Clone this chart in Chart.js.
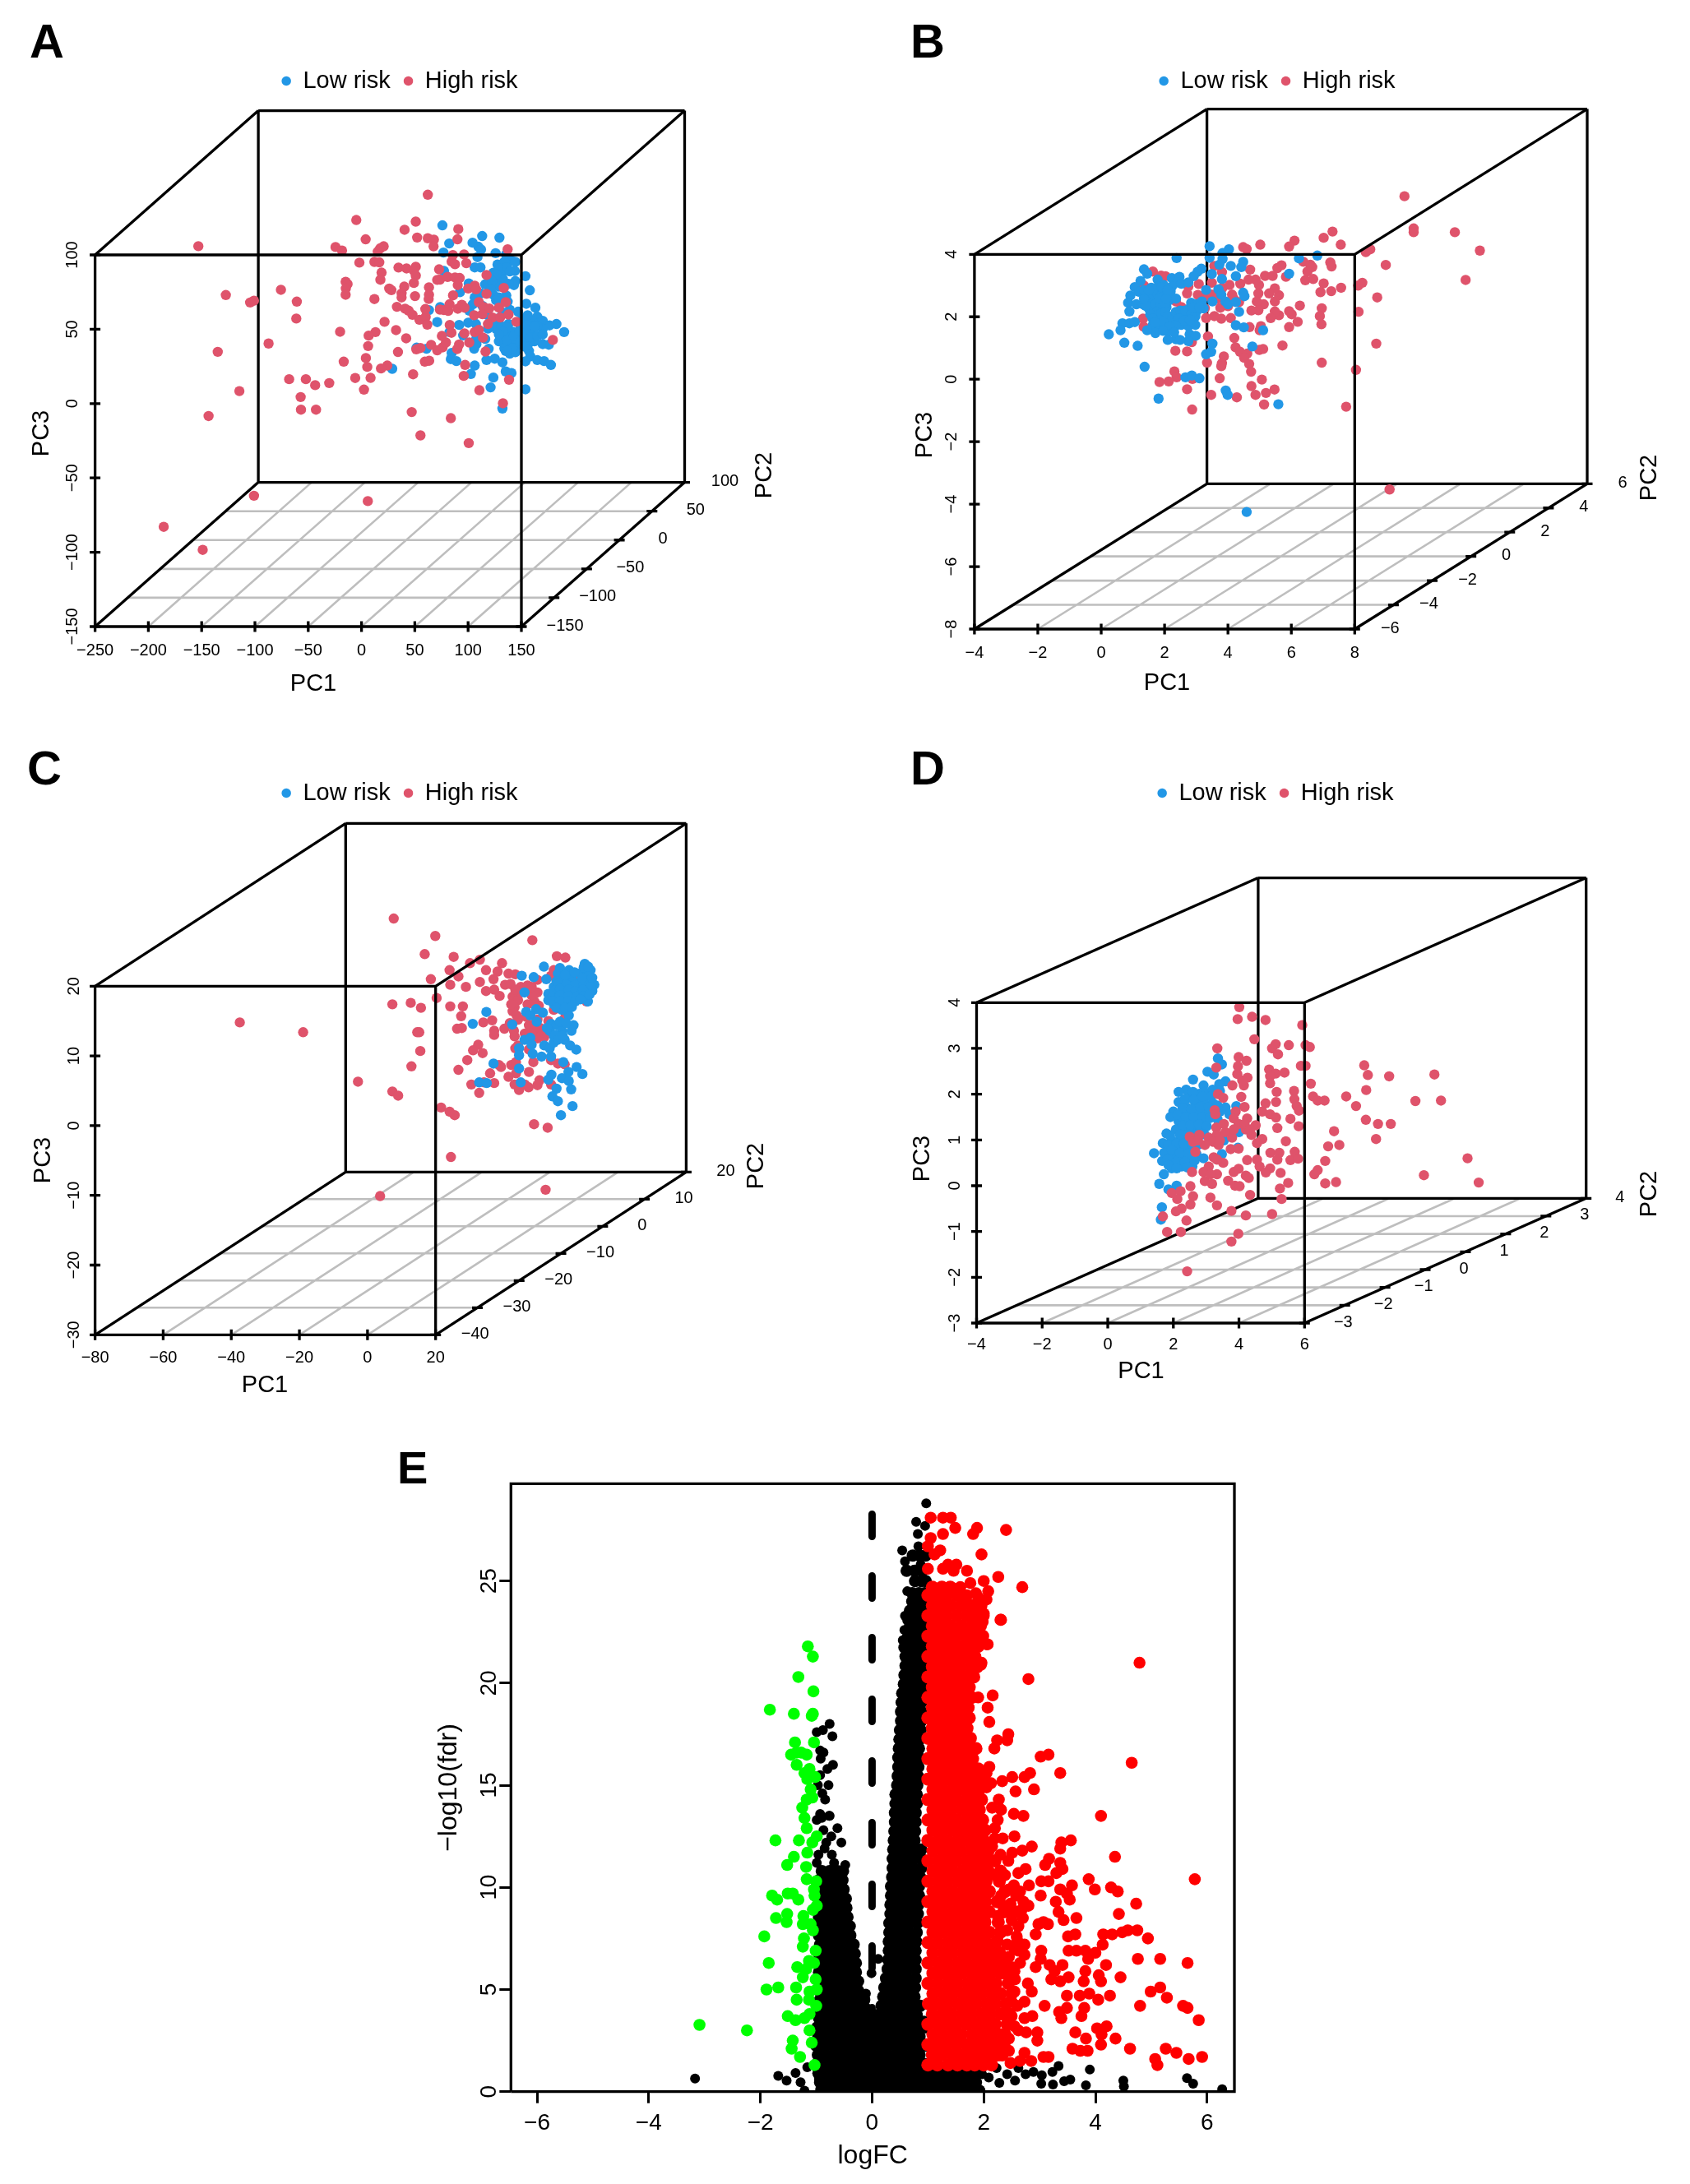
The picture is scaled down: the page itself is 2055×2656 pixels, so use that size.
<!DOCTYPE html>
<html><head><meta charset="utf-8"><title>PCA and volcano plots</title>
<script src="https://cdn.jsdelivr.net/npm/chart.js@4"></script>
<style>
html,body{margin:0;padding:0;background:#fff;width:2055px;height:2656px;overflow:hidden;position:relative}
canvas{position:absolute;display:block}
.letter{position:absolute;font:bold 58px/1 "Liberation Sans",Arial,sans-serif;color:#000}
</style></head><body>
<script>
const lowA=[[75.9,119.9],[82.3,107.7],[104.2,108.2],[113.2,112.7],[129.4,111.6],[76.9,101.6],[109.6,105.5],[112.1,103.6],[108.8,98.5],[125.8,101.2],[135.6,100.3],[140.4,96.3],[127.6,93.5],[134,95.3],[144.3,95.3],[106.2,91.6],[111.6,91.6],[143.8,89.2],[77.4,89.2],[123.7,88],[132.7,88.9],[119.9,85.2],[126.3,85.2],[132.7,83.7],[153.8,85.7],[144.3,82.4],[143,79.7],[126.3,80.6],[116,80.2],[100.6,80.8],[118.6,79.7],[128.9,78.7],[157.9,76.2],[92.3,74.9],[112.1,74.1],[123.7,73.2],[135.8,72.7],[106.2,71.4],[126.3,69.5],[134,69.5],[137.1,68.6],[154.6,67.1],[163.1,64.5],[113.4,65.8],[104.4,66.7],[101.1,62.5],[63.3,62.9],[73.8,64.9],[139.1,63.1],[146.9,61.8],[118.6,59.4],[132.7,61.2],[164.9,58.5],[71,54.8],[91.6,52.9],[100.1,54.4],[107.3,53.5],[125,53.8],[126.3,50.2],[137.9,53.5],[118.6,50.5],[154.6,53.8],[161,55.7],[166.2,53.8],[170,55.7],[176.4,52.6],[182.9,53.5],[190.1,48.1],[170,50.2],[154.6,49.2],[159.7,48.3],[149.4,52],[82.6,48.1],[95.4,45.9],[107.8,43.7],[116,43.5],[128.9,41.9],[136.6,46.5],[141.7,48.3],[146.9,46.5],[152,44.6],[162.3,41.9],[139.1,39.1],[146.9,39.1],[157.1,40.9],[175.7,39.6],[170,40],[107.8,40],[105.7,36.9],[119.3,36.9],[61,36.9],[51.7,37.6],[135.3,35.4],[139.1,33.6],[144.3,34.5],[157.1,35.4],[158.4,31.7],[84.6,34.1],[83.8,29.9],[89,28.6],[117.3,29.3],[125,30.2],[132.2,27.7],[153.8,28.4],[164.9,29.3],[171.3,28.6],[177.7,26],[106.2,25.6],[135.3,21.6],[140.7,20.5],[102.6,19.9],[123.7,17.5],[121.1,10.9],[153.8,9.6],[132.2,-3.3],[28.8,23.4],[134,41.9],[141.7,40.9],[131.4,52],[136.6,51.1],[155.9,59.4],[159.7,52],[146.9,40.9],[149.4,55.7],[153.3,57.5],[164.9,52],[134,37.2],[144.3,43.7],[154.6,42.8],[128.9,57.5]];
const lowACore=[[132.7,48.3],[136.6,42.8],[143,45.5],[148.2,49.2],[153.3,47.4],[158.4,44.6],[164.9,45.5],[170,46.5],[155.9,52.9],[162.3,52],[149.4,41.9],[153.3,38.2],[141.7,37.2],[136.6,35.4],[128.9,46.5],[128.9,90.7],[126.3,87],[136.6,91.6],[139.1,88.9],[122.4,82.4],[137.9,80.6],[121.1,76.9],[128.9,71.4]];
const highA=[[62.2,140.5],[-4.9,123.5],[50.9,122.4],[40.4,116.9],[90.8,117.3],[52.2,111.7],[3.9,110.5],[62.2,111.2],[67.9,110.3],[90,110.5],[-24.4,105.3],[-18.3,102.9],[67.6,105.8],[20.8,105.8],[17.5,104.4],[15.2,102.2],[137.1,103.8],[85.7,99.9],[96.2,100.3],[84.6,95.5],[87.7,93.7],[98.3,94.4],[-2,94.8],[12.1,95.3],[16.7,95],[34.7,91.5],[42.2,90.9],[50.9,92],[49.1,89.4],[72.8,90.3],[18.8,88.1],[50.9,86.1],[17.7,83.3],[49.1,81.1],[71,83.2],[73.6,83.4],[80.8,85.2],[87.7,84.8],[92.1,84.5],[90.3,79.7],[117.3,86.5],[-14.9,81.9],[-13.1,80.4],[-14.7,77.4],[-14.9,73.2],[-75.6,76.5],[-60.7,68.6],[-61.2,57.2],[26,77.4],[28,76.3],[40.1,78.7],[63.3,78.2],[37.6,74.1],[37.6,71.4],[50.2,72.3],[63.3,73.2],[63,70.4],[12.1,70.3],[100.1,77.4],[106.2,79.3],[107.5,76.9],[133.5,77.8],[85.9,72.8],[117.3,73.8],[110.1,68.2],[33.2,65.1],[40.9,63.8],[44.2,62.5],[47.8,59.7],[54.3,56.4],[60.2,58.3],[59.9,63.6],[61.7,53.1],[73.6,63.2],[77.4,62.9],[81.3,62.3],[82.6,66.8],[90.3,63.8],[94.1,66.4],[96.7,64.5],[114.7,64.9],[119.9,64],[128.9,64.5],[135.3,68.2],[105.7,59.4],[113.4,60.1],[122.9,57.9],[130.1,57.9],[137.9,59.9],[118.6,53.5],[145.3,55],[21.6,55],[-20.1,48.3],[13.1,48.1],[6.7,45.7],[32.4,49.4],[41.9,43.9],[6.2,38.7],[34.2,34.7],[4.1,30.6],[-16.7,28.2],[5.4,24.7],[24.2,25.6],[18.3,23.6],[-67.9,16.4],[-52.2,16.4],[-43.5,12.4],[-30.3,13.8],[-5.9,17.2],[8.5,17.3],[2.3,9.4],[-57.1,4.4],[-56.8,-4.1],[-42.7,-4.1],[48.4,19.7],[47.1,-5.7],[55.3,-21.4],[83.8,-9.8],[100.6,-26.6],[110.6,9],[132.7,0.2],[138.4,16],[95.9,18.6],[97.2,26],[59.4,28.2],[63.5,28.8],[51.4,36.5],[55.3,37.4],[65.3,39.5],[71,35.8],[76.1,37.8],[79.2,41.1],[75.4,45.5],[82.8,52.9],[84.4,47.6],[96.5,47.2],[91.6,39.8],[89.8,36.7],[101.1,41.1],[106.2,48.1],[110.1,49.6],[113.9,44.4],[116.3,35],[179.5,42.8],[5.9,-65.6],[-153.1,105.9],[-127.3,73],[-104.5,68],[-100.9,69.2],[-134.9,34.8],[-87.2,40.4],[-114.6,8.4],[-143.5,-8.4],[-100.9,-62],[-185.6,-82.9],[-149,-98.4]];
const lowB=[[3.42,4.26],[2.38,3.88],[3.42,3.89],[3.83,4.04],[4.03,4.16],[6.24,3.87],[6.82,3.96],[3.83,3.85],[3.73,3.67],[4.09,3.63],[4.48,3.76],[4.42,3.59],[5.93,3.38],[1.35,3.52],[1.45,3.38],[3.16,3.54],[3.04,3.44],[2.92,3.3],[3.49,3.37],[4.25,3.3],[3.81,3.21],[1.78,3.19],[2.23,3.24],[2.47,3.28],[1.24,3.15],[1.06,2.95],[1.19,2.8],[0.92,2.68],[0.85,2.45],[1.11,2.4],[0.89,2.17],[2.4,3.1],[2.23,2.97],[2.53,3.06],[2.75,3.1],[3.31,2.86],[3.7,2.88],[3.79,2.71],[3.92,2.49],[4,2.4],[4.48,2.77],[4.52,2.66],[3.51,2.49],[4.25,2.47],[4.35,2.16],[3.18,2.49],[2.84,2.45],[3.01,2.4],[3.23,2.27],[2.79,2.27],[3.01,2.18],[2.97,2.01],[2.62,2.05],[2.45,2.09],[2.27,2.01],[2.19,1.83],[2.36,1.92],[2.53,1.74],[2.75,1.7],[2.97,1.74],[2.02,1.7],[2.1,1.52],[1.84,1.7],[1.63,1.74],[1.71,1.48],[1.45,1.57],[0.67,1.79],[0.61,1.57],[0.89,1.79],[1.06,1.83],[0.24,1.44],[0.73,1.17],[1.15,1.07],[1.37,0.4],[1.81,-0.62],[2.66,0.06],[2.86,0.12],[3.1,0.03],[3.93,-0.36],[3.99,-0.5],[5.59,-0.8],[4.77,1.05],[4.25,1.73],[4.5,1.66],[5.11,1.57],[3.51,1.14],[3.31,0.8],[3.47,0.88],[2.79,1.44],[2.98,1.39],[2.75,1.22],[2.36,1.28],[2.49,1.26],[2.1,1.26],[4.59,-4.25],[1.58,2.67],[1.76,2.75],[1.93,2.84],[2.1,2.67],[1.41,2.49],[1.58,2.4],[1.8,2.49],[1.97,2.49],[2.15,2.53],[1.63,2.18],[1.84,2.23],[2.06,2.31],[1.5,2.27],[1.71,2.05],[1.93,2.01],[1.8,1.88],[1.58,2.93],[1.8,2.97],[1.97,3.02],[2.19,2.8],[1.45,2.71],[1.32,2.4],[2.36,2.58],[1.89,2.67],[1.71,2.58],[1.67,2.75]];
const lowBCore=[[1.5,2.58],[1.5,2.42],[1.62,2.3],[1.4,2.35],[1.7,2.4],[1.88,2.4],[2.02,2.42],[1.75,2.15],[1.9,2.12],[2.02,2.15],[1.55,2.08],[1.62,1.95],[2.1,2.02],[2.12,1.85],[1.95,1.85],[1.7,1.82],[2.35,2.15],[2.5,2.2],[2.65,2.2],[2.85,2.12],[2.45,1.95],[2.62,1.88],[2.8,1.9],[2.35,1.72],[2.15,1.68],[1.95,1.55],[2.3,1.5],[1.85,2.58],[2.05,2.58],[1.35,2.58],[2.9,2.3],[3.1,2.3],[1.65,2.88],[1.9,2.95],[2.1,2.85],[1.35,2.85],[1.5,2.85]];
const highB=[[7.3,4.73],[7.02,4.53],[7.56,4.31],[6.1,4.44],[5.93,4.25],[5.02,4.31],[4.48,4.23],[4.59,4.17],[8.35,4.07],[8.49,4.16],[8.98,3.66],[7.23,3.74],[7.27,3.61],[6.38,3.76],[6.6,3.67],[6.66,3.59],[5.69,3.65],[5.56,3.56],[6.51,3.45],[5.17,3.31],[5.41,3.31],[5.83,3.28],[4.7,3.51],[6.44,3.17],[6.69,3.21],[7.02,3.07],[7.57,2.93],[7.26,2.82],[6.92,2.79],[8.11,3],[8.24,3.09],[8.71,2.62],[8.12,2.16],[8.68,1.14],[8.04,0.3],[7.73,-0.88],[6.96,0.53],[5.72,1.08],[6.96,2.27],[6.9,2.02],[6.95,1.76],[6.27,2.36],[6.2,1.84],[5.93,1.67],[6.01,2.08],[5.93,2.18],[5.61,2.05],[5.48,2.17],[5.35,1.96],[5.48,2.49],[5.61,2.69],[5.48,2.91],[5.3,2.75],[4.96,2.75],[4.98,3.02],[4.87,3.19],[4.65,3.19],[5.13,2.4],[4.91,2.49],[4.96,2.21],[4.74,2.2],[4.09,1.96],[3.79,1.94],[3.57,2.02],[3.31,1.96],[3.76,2.29],[4,2.34],[4.35,2.47],[4.13,2.71],[3.83,2.93],[4.05,3.02],[4.39,3.06],[3.49,3.09],[3.08,3.05],[3.81,3.43],[3.57,3.63],[4.68,1.67],[5.04,1.7],[5,1.57],[4.2,1.32],[4.24,1.02],[4.38,0.88],[4.61,0.82],[4.51,0.69],[4.67,0.49],[4.73,0.24],[5.07,-0.01],[4.74,-0.22],[5.47,-0.33],[5.2,-0.44],[4.87,-0.5],[5.14,-0.81],[4.28,-0.58],[3.47,-0.5],[3.74,0.03],[3.34,0.53],[3.87,0.73],[3.81,0.51],[3.79,0.42],[3.37,1.37],[2.86,1.19],[2.71,0.89],[2.34,0.91],[2.31,0.25],[2.38,0.06],[2.13,-0.07],[1.84,-0.09],[2.88,0.01],[2.71,-0.32],[2.87,-0.97],[4.99,0.94],[5.11,0.97],[9.1,-3.53],[1.32,1.94],[1.34,1.68],[1.63,3.45],[1.89,3.32],[2.03,3.3],[1.35,3],[2.75,2.97],[2.71,2.75],[3.05,2.7],[3.31,2.66],[2.36,2.49],[2.53,2.31],[2.71,2.09],[3.27,2.27],[3.49,2.71],[3.66,2.58],[4.18,2.58],[9.57,5.86],[9.86,4.83],[9.86,4.71],[11.16,4.71],[11.95,4.12],[11.5,3.18]];
const lowC=[[63.8,23.2],[65.5,22.3],[59.2,22.3],[56.5,22.6],[51.8,22.8],[55.9,21.8],[62.7,21.9],[64.3,21.5],[45.3,21.5],[48.8,21.3],[52.5,21],[55.5,20.7],[57.9,21.1],[60.3,20.7],[62.7,20.7],[65.1,20.7],[66.6,20.2],[54.7,19.9],[57.1,19.9],[59.5,19.9],[61.9,19.7],[64.3,19.9],[66,19.3],[46.1,19.1],[53.1,18.9],[55.5,19.1],[57.9,19.1],[60.3,18.9],[62.7,18.9],[64.7,17.8],[53.1,18],[55.5,18.2],[57.9,18.3],[60.3,18.2],[58.7,17.4],[56.3,17.4],[54.7,17.4],[34.9,16.3],[46.6,16.3],[49.5,16.7],[51.5,16.2],[47.8,15.8],[59.1,15.8],[57.1,16.6],[30.9,14.6],[42.5,14.5],[49.7,14.9],[53.9,14.6],[55.5,14.4],[60.5,14.4],[59.9,13.6],[53.5,13.6],[57.1,13.6],[54.7,12.9],[57.9,12.3],[59.5,11.5],[61.3,10.9],[46.1,12.3],[47.8,12.6],[48.2,11.6],[51.9,11.5],[53.5,11.1],[54.7,11.9],[44.5,11.1],[44.5,10.1],[48.5,10.3],[51.1,9.9],[53.9,9.9],[57.5,9.1],[37,8.9],[44.5,8.2],[61.4,8.4],[59,7.7],[63.1,7.4],[54,7.3],[53.1,6.6],[57.1,6.8],[59.1,6.4],[45,6.2],[32.8,6.2],[35,6.1],[55.5,5.3],[59.8,5.2],[54.3,4.2],[55.9,3.5],[60.2,2.8],[56.8,1.5]];
const lowCCore=[[56,20.3],[58.5,20.4],[61,20.3],[63.5,20.3],[65.5,19.9],[55,19.4],[56.5,19.6],[59,19.5],[61,19.3],[63.3,19.5],[54.3,18.5],[56.5,18.7],[59,18.6],[61.5,18.5],[63.5,18.6],[65.2,18.8],[54.5,17.9],[56.5,17.9],[59,17.9],[61,17.8],[62.5,18.1],[55.5,16.9],[58,16.9],[60,17],[63,21.2],[60,21.4],[58,21.6],[66,21.2],[63.5,22.7],[60.8,22],[64.8,22.8],[55,13],[56.5,14.9],[58.3,14.7],[52.7,14],[55.8,12.3],[57.3,12.9]];
const highC=[[7.7,29.7],[19.9,27.2],[48.4,26.6],[16.8,24.6],[25.3,24.2],[30.1,23.3],[33,23.8],[39.5,23.3],[24.1,22.3],[34.8,22.3],[38.2,22.1],[55.6,24.3],[58.1,24.1],[41.4,21.8],[43.4,21.7],[26.7,21.4],[18.6,21],[37,21],[33,20.6],[24.3,20.2],[28.9,19.9],[40.4,20.2],[42,20.3],[34.8,19.3],[37.2,19.5],[38.8,18.6],[45,19.9],[47,20.1],[49.9,20.9],[42.6,18.5],[44.2,18],[20.3,18.3],[7.3,17.4],[12.7,17.6],[15.7,16.9],[24.3,17.1],[28,17.1],[27.5,15.7],[43.2,17],[42.6,16.4],[43.8,15.8],[47,17.4],[49,17.8],[49.9,19.1],[48.2,18.7],[50.3,17.2],[54.7,16.6],[36.6,15.1],[34,14.8],[41.8,14.7],[44.2,15.2],[26.3,13.9],[27.7,14],[14.6,13.4],[15.2,13.4],[40.2,13.9],[37.2,13.6],[37.2,13],[43,13.6],[43.2,12.8],[46.2,13.2],[49,13.6],[50.7,14],[47.4,14.4],[53.1,15],[57.9,15.4],[49.9,12.5],[51.9,12.7],[15.5,10.7],[32.5,11.6],[31,10.8],[33.8,10.4],[43.4,11.1],[44.2,11.5],[47.4,10.9],[29.3,9.4],[12.9,8.5],[26.7,8],[38.6,8.7],[39.2,8.4],[42.2,8.7],[43.6,9.1],[48.7,9.1],[53.9,9.4],[55.9,8.9],[57.9,8.8],[36,7.5],[43.6,7.5],[41.4,7],[47.4,7.7],[-2.8,6.3],[30.5,5.9],[34.2,6.2],[37.2,6.1],[43.2,5.9],[44.5,5.1],[46.2,5.9],[47.3,5.5],[49.9,5.8],[50.5,6.5],[53.9,5.9],[7.3,4.9],[9,4.3],[32.8,4.7],[21.6,2.6],[24.1,2],[25.6,1.5],[48.9,0.2],[52.9,-0.3],[24.5,-4.5],[52.3,-9.2],[3.7,-10.1],[64.3,17.8],[49.9,15.2],[49,14.6],[51.5,13.4],[48.2,13.2],[54.7,22.3],[53.9,21.5],[61.9,21.1],[46.6,15.6],[42.2,17.4],[45,19.1],[48.2,19.9],[43.4,19.5],[-37.5,14.8],[-18.9,13.4]];
const lowD=[[3.36,2.78],[3.48,2.65],[3.04,2.49],[3.23,2.43],[2.6,2.32],[3.59,2.28],[3.4,2.22],[2.92,2.19],[2.39,2.1],[2.16,2.05],[3.42,2.07],[2.79,2.01],[3.04,1.98],[2.5,1.92],[2.75,1.86],[2.16,1.83],[2.41,1.71],[2.67,1.74],[2.96,1.8],[3.21,1.8],[3.59,1.71],[3.92,1.74],[2,1.62],[1.91,1.5],[2.25,1.56],[2.5,1.56],[2.75,1.59],[3,1.59],[3.42,1.62],[3.71,1.56],[2.16,1.41],[2.41,1.41],[2.67,1.41],[2.92,1.41],[1.79,1.14],[2.08,1.23],[2.33,1.23],[2.58,1.23],[2.83,1.26],[4,1.17],[1.68,0.93],[1.95,0.99],[2.21,1.02],[2.41,1.02],[3.54,0.99],[1.83,0.78],[2.08,0.81],[2.33,0.81],[2.58,0.78],[1.41,0.71],[1.66,0.54],[1.95,0.63],[2.21,0.63],[2.5,0.6],[3.48,0.69],[2.92,0.6],[3.97,0.83],[1.95,0.38],[2.25,0.42],[2.58,0.42],[1.71,0.25],[1.57,0.04],[2.1,0],[1.85,-0.08],[1.65,-0.47],[1.62,-0.74]];
const lowDCore=[[2.6,2.05],[2.95,2.05],[3.2,2.1],[2.35,1.9],[2.62,1.88],[2.88,1.95],[3.15,1.95],[2.28,1.7],[2.55,1.68],[2.82,1.72],[3.08,1.72],[3.35,1.75],[2.12,1.55],[2.38,1.5],[2.62,1.5],[2.88,1.5],[3.12,1.48],[3.35,1.45],[2.28,1.32],[2.52,1.32],[2.78,1.34],[3.02,1.3],[2.2,1.12],[2.45,1.12],[2.7,1.12],[2.95,1.12],[1.9,1.1],[1.85,0.9],[2.1,0.92],[2.32,0.92],[2.55,0.92],[2.78,0.9],[1.72,0.72],[1.95,0.78],[2.2,0.72],[2.45,0.7],[2.7,0.7],[1.82,0.58],[2.08,0.52],[2.35,0.52],[2.65,0.55],[1.85,0.45],[2.1,0.38],[2.42,0.4]];
const highD=[[4.01,3.9],[3.96,3.64],[4.4,3.69],[4.81,3.62],[5.93,3.51],[4.47,3.2],[3.34,3],[5.01,3],[5.12,3.09],[5.52,3.07],[5.19,2.87],[6.03,3.07],[6.16,3.03],[3.99,2.81],[4.23,2.73],[3.31,2.58],[5.89,2.62],[6.03,2.62],[3.97,2.61],[4.92,2.54],[5.39,2.47],[5.12,2.45],[3.95,2.44],[4.26,2.36],[4.95,2.39],[7.82,2.63],[7.93,2.42],[8.58,2.39],[9.96,2.43],[3.8,2.19],[4.15,2.19],[4.1,2.3],[4.95,2.24],[6.19,2.23],[5.15,2.05],[5.68,2.07],[7.88,2.09],[3.36,2],[3.52,1.92],[4.07,1.94],[5.69,1.89],[6.26,1.95],[6.4,1.86],[6.61,1.86],[7.27,1.95],[7.57,1.74],[9.38,1.85],[10.16,1.86],[5.13,1.83],[4.81,1.8],[4.17,1.72],[5.76,1.74],[5.83,1.64],[3.26,1.65],[3.28,1.56],[3.9,1.62],[4.71,1.62],[4.95,1.56],[5.13,1.49],[3.84,1.47],[4.25,1.47],[5.57,1.46],[7.87,1.44],[8.24,1.35],[8.63,1.35],[4.51,1.32],[3.54,1.35],[3.31,1.27],[5.17,1.26],[5.82,1.3],[3.99,1.35],[4.21,1.23],[6.9,1.19],[2.5,1.07],[2.79,1.11],[3.08,1.05],[3.33,1.11],[3.59,1.17],[3.79,1.05],[4.38,1.11],[4.71,1.02],[8.18,1.02],[2.6,0.96],[3.21,0.96],[2.96,0.89],[3.38,0.89],[4.55,0.93],[5.43,0.97],[6.72,0.86],[7.06,0.89],[2.67,0.74],[3.75,0.8],[3.99,0.81],[3.23,0.62],[4.96,0.72],[5.23,0.72],[5.7,0.74],[4.25,0.56],[4.55,0.57],[5.17,0.57],[5.57,0.56],[5.8,0.59],[6.63,0.54],[3.52,0.5],[10.97,0.6],[3.08,0.42],[4.63,0.42],[4.95,0.38],[6.4,0.34],[2.57,0.3],[2.92,0.3],[3.33,0.25],[3.84,0.3],[3.99,0.37],[4.82,0.29],[5.27,0.28],[6.3,0.25],[9.64,0.23],[4.21,0.22],[4.3,0.17],[2.96,0.1],[3.18,0.04],[3.67,0.11],[3.88,0],[4.02,-0.01],[5.5,0.06],[6.63,0.05],[6.96,0.08],[2.52,-0.01],[1.95,-0.16],[2.22,-0.12],[5.25,-0.06],[2.6,-0.23],[3.13,-0.26],[4.34,-0.2],[5.3,-0.29],[2.12,-0.29],[2.52,-0.41],[3.33,-0.43],[2.25,-0.5],[2.08,-0.56],[3.77,-0.55],[4.21,-0.65],[5.01,-0.62],[1.68,-0.67],[2.4,-0.76],[1.81,-1.01],[2.23,-1.01],[3.98,-1.05],[3.77,-1.22],[2.42,-1.87],[2.75,0.99],[3.42,0.99],[3.84,1.23],[4.17,1.35],[4.34,1.23],[3.33,0.57],[3.13,0.25],[11.31,0.07]];

const greenPoints=[[-1.15,21.8],[-1.06,21.3],[-1.32,20.3],[-1.05,19.6],[-1.83,18.7],[-1.4,18.5],[-1.06,18.5],[-1.08,18.4],[-1.38,17.1],[-1.04,17.1],[-1.45,16.5],[-1.35,16.6],[-1.27,16.6],[-1.17,16.5],[-1.35,16],[-1.12,15.8],[-1.21,15.6],[-1.16,15.3],[-1.02,15.4],[-1.1,14.8],[-1.07,14.4],[-1.17,14.3],[-1.25,13.9],[-1.21,13.4],[-1.17,12.9],[-0.99,12.5],[-1.31,12.3],[-1.07,12.2],[-1.73,12.3],[-1.16,11.7],[-1.4,11.5],[-1.52,11.1],[-1.18,11],[-1.17,10.4],[-1,10.3],[-1.04,9.9],[-1.79,9.6],[-1.7,9.4],[-1.51,9.7],[-1.42,9.7],[-1.32,9.4],[-1.03,9.6],[-0.99,9.1],[-1.06,8.9],[-1.52,8.7],[-1.72,8.5],[-1.53,8.3],[-1.23,8.6],[-1.24,8.2],[-1.1,8.2],[-1.06,7.9],[-1.93,7.6],[-1.22,7.5],[-1.24,7.1],[-1.01,6.9],[-1.85,6.3],[-1.13,6.4],[-1.04,6.3],[-1.34,6.1],[-1.18,6],[-1.24,5.6],[-1.01,5.5],[-1.68,5.1],[-1.89,5],[-1.36,5.1],[-1.35,4.5],[-0.99,5],[-1.12,4.9],[-1.13,4.5],[-1,4.2],[-1.51,3.7],[-1.37,3.5],[-1.21,3.6],[-1.12,3.8],[-1.12,3],[-2.24,3],[-1.42,2.5],[-1.44,2.1],[-1.08,2.4],[-1.29,1.7],[-1.03,1.3],[-3.09,3.27]];
const redScatter=[[2.3,23.1],[2.07,21.9],[1.96,21],[4.79,21],[2.8,20.2],[2.16,19.4],[1.9,19.3],[2.07,18.8],[2.1,18.1],[2.44,17.5],[2.42,17.2],[2.24,17.2],[2.19,16.8],[2.1,15.9],[3.02,16.4],[3.16,16.5],[3.37,15.6],[4.65,16.1],[2.83,15.6],[2.73,15.4],[2.51,15.4],[2.33,15.2],[2.13,15.1],[2.57,14.7],[2.9,14.8],[2.27,14.3],[4.1,13.5],[2.54,13.6],[2.71,13.5],[2.31,13.8],[2.25,13.3],[2.2,12.9],[2.55,12.5],[2.34,12.4],[2.2,12.4],[3.56,12.3],[3.39,12.2],[3.37,11.9],[2.86,12],[2.69,11.8],[2.51,11.7],[2.44,11.3],[3.17,11.4],[3.1,11.1],[4.35,11.5],[3.37,11.2],[3.41,10.9],[3.3,10.7],[2.75,10.9],[2.62,10.7],[2.38,10.6],[3.16,10.3],[3.03,10.3],[3.58,10.1],[3.37,9.9],[3.88,10.4],[3.99,9.9],[4.28,10],[4.4,9.8],[5.78,10.4],[2.81,10.1],[3.02,9.6],[3.49,9.7],[3.54,9.4],[3.29,9.3],[4.73,9.2],[3.34,8.8],[4.42,8.7],[3.66,8.5],[3.43,8.4],[3.07,8.3],[2.98,8.2],[3.15,8.2],[2.93,7.7],[4.14,7.7],[4.3,7.7],[4.48,7.8],[4.58,7.9],[4.75,7.9],[4.94,7.5],[3.64,7.7],[3.51,7.6],[4.13,7.2],[2.73,7.2],[3.03,6.9],[3.52,6.9],[3.66,6.9],[3.82,6.9],[4,6.8],[3.87,6.5],[2.73,6.7],[3.02,6.5],[4.76,6.5],[5.16,6.5],[5.65,6.3],[4.19,6.2],[3.18,6.2],[3.41,6.2],[2.93,6.1],[3.27,5.9],[3.82,5.9],[4.06,5.7],[3.52,5.6],[4.45,5.6],[4.1,5.4],[3.79,5.4],[3.21,5.5],[3.37,5.4],[2.56,5.5],[2.79,5.3],[5.16,5.1],[4.99,4.9],[5.28,4.6],[4.26,4.7],[3.89,4.8],[3.72,4.7],[4.05,4.5],[3.49,4.7],[2.86,4.9],[4.8,4.2],[5.57,4.2],[5.65,4.1],[3.09,4.2],[2.73,4.4],[3.8,4.1],[3.49,4.1],[3.35,3.9],[3.75,3.7],[3.39,3.6],[2.87,3.7],[2.73,3.6],[5.85,3.5],[3.64,2.9],[4.03,3.1],[4.2,3.2],[4.11,2.8],[3.83,2.6],[4.36,2.6],[4.1,2.3],[2.96,2.9],[2.96,2.5],[2.76,2.9],[2.45,2.6],[4.62,2.1],[3.59,2.1],[3.73,2],[3.86,2],[5.26,2.1],[5.45,1.9],[5.07,1.6],[5.11,1.3],[5.67,1.6],[5.91,1.7],[2.32,2],[2.73,1.9],[3.07,1.7],[3.16,1.7],[2.48,1.4],[2.85,1.5],[2.65,1.5],[2.14,1.8],[2.48,9.2],[2.68,8.9],[2.31,9.6],[2.42,7.9],[2.59,7.6],[2.42,7.2],[2.71,9.3],[2.54,10.1],[1.05,28.1],[1.27,28.1],[1.41,28.1],[1.49,27.6],[1.88,27.6],[1.81,27.3],[2.4,27.5],[1.27,27.3],[1.05,27.1],[1,26.7],[1.22,26.5],[1.96,26.3],[1.12,26.3],[1,25.6],[1.36,25.8],[1.51,25.8],[1.46,25.5],[1.27,25.6],[1.7,25.5],[2.26,25.2],[1.76,24.9],[2,25],[1.49,24.6],[2.69,24.7],[2.08,24.5],[1.86,24.4],[2.05,24.1],[1.68,24.2],[2.31,23.1],[1.98,23],[2,23.4],[2.05,21.9],[1.95,20.9],[2.25,8.6],[2.5,8.4],[2.62,8.1],[2.35,9.1],[2.58,9.6],[2.7,8.5],[2.8,9.1],[2.25,7.4],[2.55,7],[2.65,6.3],[2.5,6.1],[2.55,5.9],[2.62,6.9],[2.2,10.6],[2.45,9.9],[2.65,9.8],[2.3,11.6],[2.15,12],[2.15,13.9],[2.05,14.9],[2.05,15.6],[2.6,7.4],[2.45,6.6],[2.55,4.9],[2.6,4.2],[2.55,3.2],[2.5,3.7],[2.62,3],[2.45,2],[2.5,4.4],[1.7,24.3],[1.9,24.2],[1.58,24.7],[2,23.3]];
const redMassRows=[[1.31,1,1.17,1.36,1.53,1.7,1.84,2,2.14],[1.8,1.08,1.25,1.43,1.6,1.78,1.95,2.1,2.25,2.33],[2.3,1,1.17,1.34,1.52,1.7,1.86,2.03,2.2,2.36],[2.8,1.09,1.26,1.44,1.6,1.79,1.95,2.12,2.28,2.38],[3.3,1,1.18,1.35,1.52,1.7,1.88,2.04,2.2,2.42],[3.8,1.08,1.26,1.43,1.61,1.78,1.96,2.12,2.3,2.46],[4.3,1.01,1.18,1.35,1.53,1.7,1.87,2.05,2.21,2.4],[4.8,1.09,1.27,1.44,1.62,1.79,1.96,2.14,2.3,2.5],[5.3,1,1.18,1.36,1.53,1.71,1.88,2.05,2.22,2.44],[5.8,1.09,1.26,1.44,1.61,1.79,1.96,2.12,2.3,2.4],[6.3,1,1.18,1.35,1.53,1.7,1.88,2.04,2.2,2.38],[6.8,1.09,1.27,1.44,1.62,1.79,1.96,2.12,2.28],[7.3,1,1.18,1.36,1.53,1.7,1.87,2.04,2.22],[7.8,1.09,1.26,1.44,1.61,1.78,1.94,2.1,2.3],[8.3,1,1.18,1.35,1.52,1.7,1.86,2.02,2.26],[8.8,1.09,1.26,1.44,1.61,1.78,1.94,2.1,2.36,2.55],[9.3,1,1.17,1.35,1.53,1.7,1.86,2.03,2.24],[9.8,1.09,1.26,1.44,1.62,1.78,1.95,2.1,2.38,2.6],[10.3,1,1.18,1.35,1.53,1.7,1.87,2.04,2.28],[10.8,1.09,1.26,1.44,1.62,1.78,1.95,2.08,2.3],[11.3,1,1.18,1.35,1.52,1.7,1.87,2.04,2.2],[11.8,1.09,1.27,1.44,1.6,1.78,1.95,2.08],[12.3,1,1.18,1.35,1.53,1.7,1.87,2],[12.8,1.09,1.26,1.44,1.61,1.78,1.93,2.02],[13.3,1,1.17,1.35,1.52,1.7,1.85,1.98],[13.8,1.09,1.26,1.43,1.61,1.78,1.92],[14.3,1,1.18,1.35,1.52,1.7,1.85,1.96],[14.8,1.09,1.26,1.44,1.6,1.76,1.92],[15.3,1,1.18,1.35,1.52,1.68,1.85,1.98],[15.8,1.09,1.26,1.43,1.6,1.76,1.9],[16.3,1,1.17,1.34,1.5,1.66,1.8],[16.8,1.09,1.25,1.42,1.58,1.72,1.86],[17.3,1,1.17,1.33,1.5,1.64,1.76],[17.8,1.08,1.25,1.42,1.56,1.7],[18.3,1,1.16,1.32,1.49,1.62,1.74],[18.8,1.08,1.24,1.4,1.56,1.72],[19.3,1,1.16,1.32,1.48,1.64,1.78],[19.8,1.08,1.25,1.42,1.58,1.74],[20.3,1,1.17,1.33,1.5,1.66,1.82],[20.8,1.08,1.25,1.42,1.58,1.76,1.88],[21.3,1,1.17,1.34,1.5,1.67,1.84],[21.8,1.08,1.25,1.42,1.59,1.76,1.9],[22.3,1,1.17,1.33,1.5,1.68,1.85,1.98],[22.8,1.08,1.25,1.42,1.6,1.78,1.94],[23.3,1,1.17,1.34,1.52,1.7,1.85],[23.8,1.08,1.25,1.42,1.6,1.78,1.95],[24.3,1,1.17,1.34,1.52],[24.7,1.08,1.25,1.4]];
const blackScatter=[[0.97,28.8],[0.79,27.9],[0.95,27.7],[0.82,27.3],[0.54,26.5],[0.83,26.7],[0.59,25.96],[0.87,25.8],[0.63,24.5],[0.59,23.3],[0.58,22.6],[0.55,22.1],[-0.01,5.8],[0.11,6.5],[-0.11,4.8],[2.23,1.16],[1.97,0.85],[2.09,0.69],[2.28,0.43],[2.42,0.85],[2.56,0.54],[2.62,1.16],[2.75,0.85],[2.89,0.96],[3.04,0.8],[3.03,0.39],[3.24,0.35],[3.23,0.96],[3.34,1.26],[3.44,0.51],[3.55,0.59],[3.83,0.31],[3.9,1.08],[4.5,0.54],[4.51,0.26],[5.64,0.66],[5.75,0.39],[6.27,0.12],[-1.68,0.77],[-1.53,0.54],[-1.37,0.91],[-1.28,0.46],[-1.21,0.05],[-1.16,1.2],[-0.93,0.11],[-0.95,0.62],[-3.17,0.64],[-0.76,18],[-0.88,17.7],[-0.99,17.6],[-0.71,17.4],[-0.93,16.7],[-0.87,16.6],[-0.92,16.3],[-0.7,16],[-0.8,15.8],[-0.93,15.5],[-0.97,15],[-0.78,15],[-0.89,14.6],[-0.84,14.3],[-0.93,13.6],[-0.77,13.5],[-0.9,13.4],[-0.76,13.5],[-0.99,13.3],[-0.87,12.8],[-0.62,12.9],[-0.55,12.2],[-0.73,12.5],[-0.82,12.2],[-0.96,11.6],[-0.72,11.6],[-0.85,11.9],[-0.48,11.1],[-0.68,11.2],[-0.99,11.2]];
const blackMassRows=[[26.25,0.73,0.85,0.96],[25.5,0.62,0.76,0.9],[25,0.77,0.88,0.96],[24.4,0.72,0.84,0.94],[24,0.72,0.82,0.94],[23.55,0.68,0.8,0.92],[23.1,0.65,0.75,0.85,0.95],[22.65,0.66,0.76,0.86,0.94],[22.2,0.63,0.74,0.84,0.94],[21.75,0.58,0.7,0.8,0.92],[21.3,0.6,0.7,0.8,0.92],[20.85,0.6,0.7,0.8,0.92],[20.4,0.58,0.68,0.8,0.92],[19.95,0.57,0.69,0.8,0.92],[19.5,0.54,0.66,0.78,0.9],[19.05,0.53,0.65,0.77,0.88],[18.6,0.52,0.64,0.76,0.88],[18.15,0.52,0.64,0.76,0.88],[17.7,0.5,0.62,0.74,0.87],[17.25,0.49,0.61,0.73,0.85],[16.8,0.48,0.6,0.72,0.84],[16.35,0.47,0.6,0.72,0.84],[15.9,0.47,0.59,0.71,0.83],[15.45,0.46,0.58,0.7,0.82],[15,0.45,0.57,0.69,0.81],[14.55,0.42,0.54,0.67,0.8],[14.1,0.42,0.54,0.66,0.8],[13.65,0.41,0.53,0.65,0.78],[13.2,0.41,0.53,0.65,0.78],[12.75,0.4,0.52,0.64,0.77],[12.3,0.39,0.51,0.63,0.76],[11.85,0.38,0.5,0.62,0.74,0.88],[11.4,0.37,0.49,0.61,0.74,0.88],[10.95,0.37,0.49,0.61,0.74,0.88],[10.5,0.36,0.48,0.6,0.72,0.86],[10.05,0.34,0.47,0.59,0.7,0.84],[9.6,0.34,0.46,0.58,0.7,0.84],[9.15,0.33,0.45,0.57,0.69,0.83],[8.7,0.33,0.45,0.57,0.68,0.82],[8.25,0.31,0.43,0.55,0.67,0.81],[7.8,0.31,0.43,0.54,0.66,0.8],[7.35,0.3,0.42,0.53,0.65,0.79],[6.9,0.3,0.41,0.52,0.64,0.78],[6.45,0.29,0.41,0.53,0.65,0.78],[6,0.28,0.4,0.52,0.64,0.78],[5.55,0.25,0.38,0.51,0.64,0.78],[5.1,0.22,0.35,0.49,0.63,0.77],[4.65,0.2,0.33,0.47,0.61,0.76],[4.2,0.17,0.3,0.44,0.58,0.72,0.86],[3.75,0.1,0.24,0.38,0.52,0.66,0.8],[3.42,0.06,0.2,0.35,0.49,0.64,0.79,0.93],[10.8,-0.9,-0.76,-0.62,-0.52],[10.35,-0.95,-0.81,-0.67,-0.53],[9.9,-0.93,-0.79,-0.65,-0.51],[9.45,-0.95,-0.81,-0.67,-0.53,-0.47],[9,-0.93,-0.79,-0.65,-0.51,-0.46],[8.55,-0.95,-0.81,-0.67,-0.53,-0.44],[8.1,-0.93,-0.79,-0.65,-0.51,-0.4],[7.65,-0.95,-0.81,-0.67,-0.53,-0.39],[7.2,-0.93,-0.79,-0.65,-0.51,-0.37,-0.33],[6.75,-0.95,-0.81,-0.67,-0.53,-0.39,-0.31],[6.3,-0.93,-0.79,-0.65,-0.51,-0.37,-0.29],[5.85,-0.95,-0.81,-0.67,-0.53,-0.39,-0.29],[5.4,-0.93,-0.79,-0.65,-0.51,-0.37,-0.25],[4.95,-0.95,-0.81,-0.67,-0.53,-0.39,-0.25],[4.5,-0.93,-0.79,-0.65,-0.51,-0.37,-0.23,-0.14],[4.05,-0.95,-0.81,-0.67,-0.53,-0.39,-0.25,-0.11],[3.6,-0.95,-0.8,-0.66,-0.52,-0.38,-0.24,-0.1,0.02],[3.15,-0.98,-0.84,-0.7,-0.56,-0.42,-0.28,-0.14,0,0.14,0.28,0.42,0.56,0.7,0.84,0.96],[2.7,-0.96,-0.83,-0.69,-0.55,-0.41,-0.27,-0.13,0.01,0.15,0.29,0.43,0.57,0.71,0.85],[2.25,-1,-0.86,-0.71,-0.57,-0.43,-0.29,-0.15,-0.01,0.13,0.27,0.41,0.55,0.69,0.83,0.95],[1.8,-0.97,-0.83,-0.69,-0.55,-0.41,-0.27,-0.13,0.01,0.15,0.29,0.43,0.57,0.71,0.85],[1.35,-0.99,-0.85,-0.71,-0.57,-0.43,-0.29,-0.15,-0.01,0.13,0.27,0.41,0.55,0.69,0.83,0.95],[0.9,-0.96,-0.82,-0.68,-0.54,-0.4,-0.26,-0.12,0.02,0.16,0.3,0.44,0.58,0.72,0.86,1,1.14,1.28,1.42,1.56,1.7,1.84],[0.45,-0.93,-0.8,-0.66,-0.52,-0.38,-0.24,-0.1,0.04,0.18,0.32,0.46,0.6,0.74,0.88,1.02,1.16,1.3,1.44,1.58,1.72,1.86],[0.05,-0.88,-0.74,-0.6,-0.46,-0.32,-0.18,-0.04,0.1,0.24,0.38,0.52,0.66,0.8,0.94,1.08,1.22,1.36,1.5,1.64,1.78,1.92]];
const fdrCutDash=[28.27,0];

const pc1A=[-250,-200,-150,-100,-50,0,50,100,150],pc3A=[-150,-100,-50,0,50,100],pc2A=[-150,-100,-50,0,50,100];
const pc1B=[-4,-2,0,2,4,6,8],pc3B=[-8,-6,-4,-2,0,2,4],pc2B=[-6,-4,-2,0,2,4,6];
const pc1C=[-80,-60,-40,-20,0,20],pc3C=[-30,-20,-10,0,10,20],pc2C=[-40,-30,-20,-10,0,10,20];
const pc1D=[-4,-2,0,2,4,6],pc3D=[-3,-2,-1,0,1,2,3,4],pc2D=[-3,-2,-1,0,1,2,3,4];
const logFCTicks=[-6,-4,-2,0,2,4,6],fdrTicks=[0,5,10,15,20,25];

const LOW='#2297e6',HIGH='#df536b',FONT='"Liberation Sans",Arial,sans-serif';
Chart.defaults.font.family=FONT;Chart.defaults.color='#000';
const minus=v=>String(v).replace('-','\u2212');
const pts=a=>a.map(([x,y])=>({x,y}));
const rowsToPts=r=>r.flatMap(([y,...xs])=>xs.map(x=>({x,y})));

function addCanvas(x,y,w,h){const c=document.createElement('canvas');c.width=w;c.height=h;c.style.cssText=`left:${x}px;top:${y}px;width:${w}px;height:${h}px`;document.body.appendChild(c);return c;}
function addLetter(t,x,y,size){const d=document.createElement('div');d.className='letter';d.textContent=t;d.style.cssText=`left:${x}px;top:${y}px;font-size:${size}px`;document.body.appendChild(d);}
const GAP={x:NaN,y:NaN};
const LEGEND_PAD=16,LEGEND_FONT=29,PAD_R=10;

function panel(p){
 const g=p.geo,cy=Math.round(p.legendY-LEGEND_PAD-LEGEND_FONT/2),cx=Math.round(p.legendX-p.halfW+PAD_R/2),cw=p.halfW*2,bottom=Math.round(g.B+p.bottomPad),ch=bottom-cy;
 const chartTop=cy+LEGEND_FONT+LEGEND_PAD+10,chartRight=cx+cw-PAD_R;
 const x0=p.pc1[0],x1=p.pc1[p.pc1.length-1],y0=p.pc3[0],y1=p.pc3[p.pc3.length-1];
 const ux=(g.R-g.L)/(x1-x0),uy=(g.B-g.T)/(y1-y0);
 const dx=(g.BR-g.R)/ux,dy=(g.B-g.BB)/uy;
 const seg=(...s)=>s.flatMap(([a,b])=>[{x:a[0],y:a[1]},{x:b[0],y:b[1]},GAP]);
 const n=p.pc2.length-1;
 const floor=[];
 p.pc1.slice(1,-1).forEach(t=>floor.push([[t,y0],[t+dx,y0+dy]]));
 p.pc2.slice(1,-1).forEach((_,i)=>{const f=(i+1)/n;floor.push([[x0+f*dx,y0+f*dy],[x1+f*dx,y0+f*dy]]);});
 const back=[[[x0+dx,y0+dy],[x1+dx,y0+dy]],[[x1+dx,y0+dy],[x1+dx,y1+dy]],[[x1+dx,y1+dy],[x0+dx,y1+dy]],[[x0+dx,y1+dy],[x0+dx,y0+dy]],[[x0,y1],[x0+dx,y1+dy]],[[x0,y0],[x0+dx,y0+dy]]];
 const front=[[[x0,y0],[x1,y0]],[[x1,y0],[x1,y1]],[[x1,y1],[x0,y1]],[[x0,y1],[x0,y0]],[[x1,y1],[x1+dx,y1+dy]],[[x1,y0],[x1+dx,y0+dy]]];
 const tk=[];const tl=6.5;
 p.pc1.forEach(t=>tk.push([[t,y0-tl/uy],[t,y0+tl/uy]]));
 p.pc3.forEach(t=>tk.push([[x0-tl/ux,t],[x0+tl/ux,t]]));
 p.pc2.forEach((_,i)=>{const f=i/n;tk.push([[x1+f*dx-tl/ux,y0+f*dy],[x1+f*dx+tl/ux,y0+f*dy]]);});
 const lineDs=(data,color,w,order)=>({type:'scatter',showLine:true,data,borderColor:color,backgroundColor:color,borderWidth:w,pointRadius:0,order,clip:false,spanGaps:false,tension:0});
 const pointDs=(label,data,color,order)=>({label,data:pts(data),backgroundColor:color,borderColor:color,borderWidth:0,pointRadius:p.r,pointHoverRadius:p.r,pointStyle:'circle',order});
 const textPlugin={id:'panelText',afterDraw(chart){
   const c=chart.ctx,sx=chart.scales.x,sy=chart.scales.y;c.save();c.fillStyle='#000';c.textAlign='center';c.textBaseline='middle';
   c.font=`${p.tickFont}px ${FONT}`;
   p.pc2.forEach((v,i)=>{const f=i/n;c.fillText(minus(v),sx.getPixelForValue(x1+f*dx)+(i===n?p.pc2Off-p.lastShift:p.pc2Off),sy.getPixelForValue(y0+f*dy)-1);});
   c.font=`29px ${FONT}`;
   c.fillText('PC1',p.pc1Title[0]-cx,p.pc1Title[1]-cy);
   [['PC3',p.pc3Title],['PC2',p.pc2Title]].forEach(([t,q])=>{c.save();c.translate(q[0]-cx,q[1]-cy);c.rotate(-Math.PI/2);c.fillText(t,0,0);c.restore();});
   c.restore();}};
 new Chart(addCanvas(cx,cy,cw,ch),{type:'scatter',plugins:[textPlugin],data:{datasets:[
   pointDs('Low risk',p.low,LOW,p.lowOrder),pointDs('High risk',p.high,HIGH,p.highOrder),
   lineDs(seg(...floor),'#bebebe',2.6,8),lineDs(seg(...back),'#000',3.3,7),lineDs(seg(...front),'#000',3.3,1),lineDs(seg(...tk),'#000',3.3,1)]},
  options:{responsive:false,animation:false,devicePixelRatio:1,events:[],layout:{padding:{left:0,top:0,bottom:0,right:PAD_R}},
   plugins:{tooltip:{enabled:false},legend:{display:true,position:'top',labels:{font:{size:LEGEND_FONT,family:FONT},color:'#000',usePointStyle:true,pointStyleWidth:11.5,boxHeight:8,padding:LEGEND_PAD,filter:i=>!!i.text,sort:(a,b)=>a.datasetIndex-b.datasetIndex}}},
   scales:{
    x:{type:'linear',min:x0,max:x1+(chartRight-g.R)/ux,border:{display:false},grid:{display:false,drawTicks:false},
      afterBuildTicks:s=>{s.ticks=p.pc1.map(value=>({value}));},afterFit:s=>{s.height=bottom-g.B;},
      ticks:{callback:minus,autoSkip:false,minRotation:0,maxRotation:0,padding:p.xPad,font:{size:p.tickFont},color:'#000'}},
    y:{type:'linear',min:y0,max:y1+(g.T-chartTop)/uy,border:{display:false},grid:{display:false,drawTicks:false},
      afterBuildTicks:s=>{s.ticks=p.pc3.map(value=>({value}));},afterFit:s=>{s.width=g.L-cx;},
      ticks:{callback:minus,autoSkip:false,minRotation:90,maxRotation:90,crossAlign:'center',padding:p.yPad,font:{size:p.tickFont},color:'#000'}}
   }}});
}
panel({low:lowA.concat(lowACore),high:highA,pc1:pc1A,pc3:pc3A,pc2:pc2A,r:6.2,tickFont:20,lowOrder:3,highOrder:2,legendX:486,legendY:98,halfW:480,bottomPad:90,xPad:17,yPad:4.5,pc2Off:53,lastShift:4,
 geo:{L:115.6,R:634,T:310,B:762,BR:832.5,BB:586.6},pc1Title:[381,832],pc3Title:[51,527],pc2Title:[930,578]});
panel({low:lowB.concat(lowBCore),high:highB,pc1:pc1B,pc3:pc3B,pc2:pc2B,r:6.2,tickFont:20,lowOrder:2,highOrder:3,legendX:1552.9,legendY:98,halfW:475,bottomPad:90,xPad:17,yPad:15.7,pc2Off:43,lastShift:0,
 geo:{L:1184.9,R:1647.3,T:309.3,B:765,BR:1930,BB:588.3},pc1Title:[1419,831],pc3Title:[1125,529],pc2Title:[2006,581]});
panel({low:lowC.concat(lowCCore),high:highC,pc1:pc1C,pc3:pc3C,pc2:pc2C,r:6.2,tickFont:20,lowOrder:2,highOrder:3,legendX:486,legendY:964,halfW:480,bottomPad:90,xPad:16,yPad:8.2,pc2Off:48,lastShift:0,
 geo:{L:115.6,R:529.7,T:1199.3,B:1623.3,BR:834.4,BB:1425.3},pc1Title:[322,1685],pc3Title:[53,1411],pc2Title:[920,1418]});
panel({low:lowD.concat(lowDCore),high:highD,pc1:pc1D,pc3:pc3D,pc2:pc2D,r:6.2,tickFont:20,lowOrder:3,highOrder:2,legendX:1550.6,legendY:964,halfW:475,bottomPad:90,xPad:14,yPad:15.1,pc2Off:47,lastShift:6,
 geo:{L:1187.5,R:1586.3,T:1219.3,B:1609,BR:1928.7,BB:1457.3},pc1Title:[1387.5,1668],pc3Title:[1121.5,1409],pc2Title:[2006,1452]});
addLetter('A',36,21,58);addLetter('B',1107,21,58);addLetter('C',33,905,58);addLetter('D',1107,905,58);addLetter('E',483,1757,56);

(function(){
 const cx=500,cy=1780,cw=1020,ch=876;
 const g={L:621.3,R:1501,T:1804.3,B:2543.7};
 const xMin=-6-(653-g.L)/67.9,xMax=6+(g.R-1467.8)/67.9,yMax=(g.B-g.T)/24.84;
 const box=[{x:xMin,y:0},{x:xMax,y:0},{x:xMax,y:yMax},{x:xMin,y:yMax},{x:xMin,y:0}];
 const ptDs=(data,color,r,order)=>({data,backgroundColor:color,borderColor:color,borderWidth:0,pointRadius:r,pointHoverRadius:r,order,clip:0});
 new Chart(addCanvas(cx,cy,cw,ch),{type:'scatter',data:{datasets:[
   ptDs(pts(blackScatter),'#000',6,5),
   ptDs(rowsToPts(blackMassRows),'#000',7.5,5),
   ptDs(rowsToPts(redMassRows),'#ff0000',8,3),
   ptDs(pts(redScatter),'#ff0000',7.3,3),
   ptDs(pts(greenPoints),'#00ff00',7.3,3),
   {data:fdrCutDash.map(y=>({x:0,y})),showLine:true,borderColor:'#000',borderWidth:9,borderDash:[27,48],borderCapStyle:'round',pointRadius:0,order:4},
   {data:box,showLine:true,borderColor:'#000',borderWidth:3.3,pointRadius:0,clip:false,order:1,tension:0}
  ]},
  options:{responsive:false,animation:false,devicePixelRatio:1,events:[],layout:{padding:{top:g.T-cy,right:cx+cw-g.R,left:0,bottom:0}},
   plugins:{legend:{display:false},tooltip:{enabled:false}},
   scales:{
    x:{type:'linear',min:xMin,max:xMax,border:{display:false},grid:{drawOnChartArea:false,drawTicks:true,tickLength:14,tickWidth:3,tickColor:'#000'},
      afterBuildTicks:s=>{s.ticks=logFCTicks.map(value=>({value}));},afterFit:s=>{s.height=cy+ch-g.B;},
      title:{display:true,text:'logFC',font:{size:32},color:'#000',padding:{top:0,bottom:14.8}},
      ticks:{callback:minus,autoSkip:false,maxRotation:0,minRotation:0,padding:8,font:{size:28},color:'#000'}},
    y:{type:'linear',min:0,max:yMax,border:{display:false},grid:{drawOnChartArea:false,drawTicks:true,tickLength:14,tickWidth:3,tickColor:'#000'},
      afterBuildTicks:s=>{s.ticks=fdrTicks.map(value=>({value}));},afterFit:s=>{s.width=g.L-cx;},
      title:{display:true,text:'\u2212log10(fdr)',font:{size:32},color:'#000',padding:{top:26.8,bottom:0}},
      ticks:{callback:minus,autoSkip:false,minRotation:90,maxRotation:90,crossAlign:'center',padding:-3.6,font:{size:28},color:'#000'}}
   }}});
})();
</script></body></html>
